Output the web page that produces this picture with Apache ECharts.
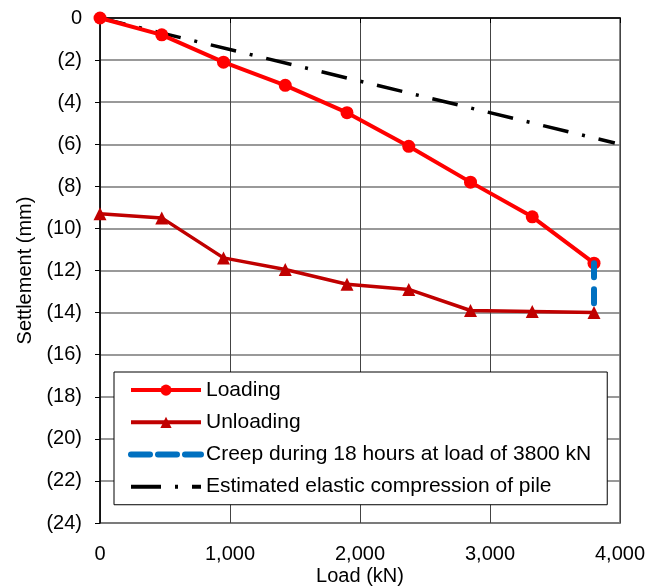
<html lang="en">
<head>
  <script src="https://cdn.jsdelivr.net/npm/echarts@6/dist/echarts.min.js"></script>
</head>
<body style="margin:0">
  <div id="main" style="width: 662px;height:587px;"></div>
</body>
<script>
  // loads (kN) and settlements (mm)
  var loads = [0, 475, 950, 1425, 1900, 2375, 2850, 3325, 3800];
  var loading = [0, 0.8, 2.1, 3.2, 4.5, 6.1, 7.8, 9.45, 11.65];
  var unloading = [9.3, 9.5, 11.4, 11.95, 12.65, 12.9, 13.9, 13.95, 14.0];
  var creepLoad = [3800, 3800];
  var creepSettle = [11.65, 14.0];
  var elasticLoad = [0, 3960];
  var elasticSettle = [0, 5.94];
  var names = ['Loading', 'Unloading', 'Creep during 18 hours at load of 3800 kN',
    'Estimated elastic compression of pile'];

  function pairs(xs, ys) {
    return xs.map(function (x, i) { return [x, ys[i]]; });
  }

  var myChart = echarts.init(document.getElementById('main'));
  var font = 'Liberation Sans, Arial, sans-serif';
  var dashDot = [26, 14, 3, 14];
  myChart.setOption({
    animation: false,
    grid: {
      left: 100, right: 42, top: 18, bottom: 64,
      outerBoundsMode: 'none', containLabel: false,
      show: true, borderColor: '#888', borderWidth: 2
    },
    xAxis: {
      type: 'value', min: 0, max: 4000, interval: 1000,
      name: 'Load (kN)', nameLocation: 'middle', nameGap: 36, nameMoveOverlap: false,
      nameTextStyle: { fontFamily: font, fontSize: 20, color: '#000' },
      axisLine: { lineStyle: { color: '#000', width: 1.5 } },
      axisTick: { show: true, length: 5, lineStyle: { color: '#000' } },
      axisLabel: {
        fontFamily: font, fontSize: 20, color: '#000', margin: 14,
        formatter: function (v) { return v.toLocaleString('en-US'); }
      },
      splitLine: { show: true, lineStyle: { color: '#444', width: 1 } }
    },
    yAxis: {
      type: 'value', min: 0, max: 24, interval: 2, inverse: true,
      name: 'Settlement (mm)', nameLocation: 'middle', nameGap: 57, nameMoveOverlap: false,
      nameTextStyle: { fontFamily: font, fontSize: 20, color: '#000' },
      axisLine: { show: true, lineStyle: { color: '#000', width: 1.5 } },
      axisTick: { show: true, length: 5, lineStyle: { color: '#000' } },
      axisLabel: {
        fontFamily: font, fontSize: 20, color: '#000', margin: 18,
        formatter: function (v) { return v === 0 ? '0' : '(' + v + ')'; }
      },
      splitLine: { show: true, lineStyle: { color: '#777', width: 1.5 } }
    },
    legend: {
      orient: 'vertical', left: 114, top: 372,
      backgroundColor: '#fff', borderColor: '#000', borderWidth: 1,
      padding: [0, 16, 0, 14], itemWidth: 70, itemHeight: 14, itemGap: -4,
      textStyle: { fontFamily: font, fontSize: 21, color: '#000', lineHeight: 21 },
      data: [
        { name: names[0], lineStyle: { width: 4 } },
        { name: names[1], lineStyle: { width: 4 } },
        { name: names[2], itemStyle: { opacity: 0 }, lineStyle: { width: 6, type: [19, 8], cap: 'round' } },
        { name: names[3], itemStyle: { opacity: 0 }, lineStyle: { width: 4, type: [30, 14, 3, 14] } }
      ]
    },
    series: [
      {
        name: names[0], type: 'line', data: pairs(loads, loading),
        symbol: 'circle', symbolSize: 13,
        lineStyle: { color: '#ff0000', width: 4 },
        itemStyle: { color: '#ff0000' }, z: 3
      },
      {
        name: names[1], type: 'line', data: pairs(loads, unloading),
        symbol: 'triangle', symbolSize: 13,
        lineStyle: { color: '#c00000', width: 3.5 },
        itemStyle: { color: '#c00000' }, z: 3
      },
      {
        name: names[2], type: 'line',
        data: pairs(creepLoad, creepSettle), symbol: 'none',
        lineStyle: { color: '#0070c0', width: 6, type: [14, 12], cap: 'round' },
        itemStyle: { color: '#0070c0' }, z: 4
      },
      {
        name: names[3], type: 'line',
        data: pairs(elasticLoad, elasticSettle), symbol: 'none',
        lineStyle: { color: '#000', width: 3.5, type: dashDot },
        itemStyle: { color: '#000' }, z: 2
      }
    ]
  });
</script>
</html>
